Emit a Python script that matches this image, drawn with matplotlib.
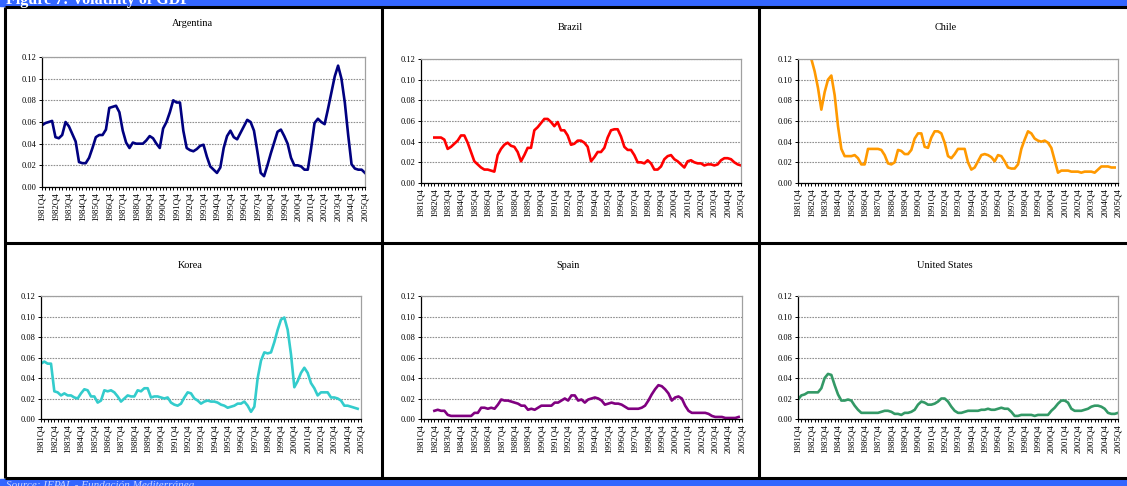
"""Volatility of GDP, six country panels
"""
import numpy as np
import matplotlib
matplotlib.use('Agg')
import matplotlib.pyplot as plt
from matplotlib.ticker import MultipleLocator, FormatStrFormatter

W, H = 1127, 486
NA = np.nan

YEARS = list(range(1981, 2006))
TICK_LABELS = [f'{y}Q4' for y in YEARS]

ARGENTINA = [
    0.057, 0.059, 0.060, 0.061, 0.046, 0.045, 0.048, 0.060,
    0.056, 0.049, 0.042, 0.023, 0.022, 0.022, 0.027, 0.036,
    0.046, 0.048, 0.048, 0.053, 0.073, 0.074, 0.075, 0.069,
    0.052, 0.041, 0.036, 0.041, 0.040, 0.040, 0.040, 0.043,
    0.047, 0.045, 0.040, 0.036, 0.054, 0.060, 0.069, 0.080,
    0.078, 0.078, 0.052, 0.036, 0.034, 0.033, 0.035, 0.038,
    0.039, 0.028, 0.019, 0.016, 0.013, 0.018, 0.036, 0.047,
    0.052, 0.046, 0.044, 0.050, 0.056, 0.062, 0.060, 0.052,
    0.033, 0.013, 0.010, 0.020, 0.031, 0.041, 0.051, 0.053,
    0.047, 0.040, 0.027, 0.020, 0.020, 0.019, 0.016, 0.016,
    0.036, 0.059, 0.063, 0.060, 0.058, 0.072, 0.087, 0.102,
    0.112, 0.100, 0.078, 0.048, 0.021, 0.017, 0.016, 0.016,
    0.013,
]
BRAZIL = [
    NA, NA, NA, NA, 0.044, 0.044, 0.044, 0.042,
    0.033, 0.035, 0.038, 0.041, 0.046, 0.046, 0.039, 0.030,
    0.021, 0.018, 0.015, 0.013, 0.013, 0.012, 0.011, 0.027,
    0.033, 0.037, 0.039, 0.036, 0.035, 0.030, 0.021, 0.027,
    0.034, 0.034, 0.051, 0.054, 0.058, 0.062, 0.062, 0.059,
    0.055, 0.059, 0.051, 0.051, 0.046, 0.037, 0.038, 0.041,
    0.041, 0.039, 0.035, 0.021, 0.025, 0.030, 0.030, 0.034,
    0.044, 0.051, 0.052, 0.052, 0.045, 0.035, 0.032, 0.032,
    0.027, 0.020, 0.020, 0.019, 0.022, 0.019, 0.013, 0.013,
    0.016, 0.023, 0.026, 0.027, 0.023, 0.021, 0.018, 0.015,
    0.021, 0.022, 0.020, 0.019, 0.019, 0.017, 0.018, 0.018,
    0.017, 0.018, 0.022, 0.024, 0.024, 0.023, 0.020, 0.018,
    0.017,
]
CHILE = [
    NA, NA, NA, NA, 0.120, 0.108, 0.092, 0.071,
    0.088, 0.100, 0.104, 0.085, 0.055, 0.033, 0.026, 0.026,
    0.026, 0.027, 0.024, 0.018, 0.018, 0.033, 0.033, 0.033,
    0.033, 0.032, 0.027, 0.019, 0.018, 0.020, 0.032, 0.031,
    0.028, 0.028, 0.032, 0.043, 0.048, 0.048, 0.035, 0.034,
    0.044, 0.050, 0.050, 0.048, 0.039, 0.026, 0.024, 0.028,
    0.033, 0.033, 0.033, 0.020, 0.013, 0.015, 0.021, 0.027,
    0.028, 0.027, 0.025, 0.021, 0.027, 0.026, 0.021, 0.015,
    0.014, 0.014, 0.018, 0.033, 0.042, 0.050, 0.048, 0.043,
    0.041, 0.040, 0.041, 0.039, 0.034, 0.022, 0.010, 0.012,
    0.012, 0.012, 0.011, 0.011, 0.011, 0.010, 0.011, 0.011,
    0.011, 0.010, 0.013, 0.016, 0.016, 0.016, 0.015, 0.015,
    NA,
]
KOREA = [
    0.054, 0.056, 0.054, 0.054, 0.027, 0.026, 0.023, 0.025,
    0.023, 0.023, 0.021, 0.020, 0.025, 0.029, 0.028, 0.022,
    0.022, 0.016, 0.018, 0.028, 0.027, 0.028, 0.026, 0.022,
    0.017, 0.020, 0.023, 0.022, 0.022, 0.028, 0.027, 0.030,
    0.030, 0.021, 0.022, 0.022, 0.021, 0.020, 0.021, 0.016,
    0.014, 0.013, 0.015, 0.021, 0.026, 0.025, 0.020, 0.018,
    0.015, 0.017, 0.018, 0.017, 0.017, 0.016, 0.014, 0.013,
    0.011, 0.012, 0.013, 0.015, 0.015, 0.017, 0.013, 0.007,
    0.012, 0.040, 0.057, 0.065, 0.064, 0.065, 0.075, 0.087,
    0.097, 0.099, 0.087, 0.063, 0.031, 0.037, 0.045, 0.050,
    0.045, 0.035, 0.030, 0.023, 0.026, 0.026, 0.026, 0.021,
    0.021, 0.020, 0.018, 0.013, 0.013, 0.012, 0.011, 0.010,
    NA,
]
SPAIN = [
    NA, NA, NA, NA, 0.008, 0.009, 0.008, 0.008,
    0.004, 0.003, 0.003, 0.003, 0.003, 0.003, 0.003, 0.003,
    0.006, 0.006, 0.011, 0.011, 0.010, 0.011, 0.010, 0.014,
    0.019, 0.018, 0.018, 0.017, 0.016, 0.015, 0.013, 0.013,
    0.009, 0.010, 0.009, 0.011, 0.013, 0.013, 0.013, 0.013,
    0.016, 0.016, 0.018, 0.020, 0.018, 0.023, 0.023, 0.018,
    0.019, 0.016, 0.019, 0.020, 0.021, 0.020, 0.018, 0.014,
    0.015, 0.016, 0.015, 0.015, 0.014, 0.012, 0.010, 0.010,
    0.010, 0.010, 0.011, 0.013, 0.018, 0.024, 0.029, 0.033,
    0.032, 0.029, 0.025, 0.018, 0.021, 0.022, 0.020, 0.013,
    0.008, 0.006, 0.006, 0.006, 0.006, 0.006, 0.005, 0.003,
    0.002, 0.002, 0.002, 0.001, 0.001, 0.001, 0.001, 0.002,
    NA,
]
UNITED_STATES = [
    0.019, 0.023, 0.024, 0.026, 0.026, 0.026, 0.026, 0.030,
    0.040, 0.044, 0.043, 0.033, 0.024, 0.018, 0.018, 0.019,
    0.018, 0.013, 0.009, 0.006, 0.006, 0.006, 0.006, 0.006,
    0.006, 0.007, 0.008, 0.008, 0.007, 0.005, 0.005, 0.004,
    0.006, 0.006, 0.007, 0.009, 0.014, 0.017, 0.016, 0.014,
    0.014, 0.015, 0.017, 0.020, 0.020, 0.017, 0.012, 0.008,
    0.006, 0.006, 0.007, 0.008, 0.008, 0.008, 0.008, 0.009,
    0.009, 0.010, 0.009, 0.009, 0.010, 0.011, 0.010, 0.010,
    0.007, 0.003, 0.003, 0.004, 0.004, 0.004, 0.004, 0.003,
    0.004, 0.004, 0.004, 0.004, 0.008, 0.011, 0.015, 0.018,
    0.018, 0.016, 0.010, 0.008, 0.008, 0.008, 0.009, 0.010,
    0.012, 0.013, 0.013, 0.012, 0.010, 0.006, 0.005, 0.005,
    0.006,
]

# name, series, colour, plot box (left, right, top, bottom in px), title centre
PANELS = [
    ('Argentina', ARGENTINA, '#000080', (42, 365, 57, 187), (192, 24)),
    ('Brazil', BRAZIL, '#ff0000', (421, 741, 59, 183), (570, 28)),
    ('Chile', CHILE, '#ff9900', (798, 1118, 59, 183), (946, 28)),
    ('Korea', KOREA, '#33cccc', (41, 361, 296, 419), (190, 265)),
    ('Spain', SPAIN, '#800080', (421, 742, 296, 419), (568, 265)),
    ('United States', UNITED_STATES, '#339966', (798, 1118, 296, 419), (945, 265)),
]

SERIF = ['Liberation Serif', 'DejaVu Serif']
BAR_BLUE = '#3366ff'


def fx(px):
    return px / W


def fy(py):
    return 1 - py / H


def draw_panel(fig, name, values, colour, box, title_pos):
    left, right, top, bottom = box
    ax = fig.add_axes([fx(left), fy(bottom), fx(right - left), (bottom - top) / H])
    x = np.arange(len(values))
    ax.plot(x, values, color=colour, lw=1.9, solid_joinstyle='round')
    ax.set_xlim(0, len(values) - 1)
    ax.set_ylim(0, 0.12)

    ax.yaxis.set_major_locator(MultipleLocator(0.02))
    ax.yaxis.set_major_formatter(FormatStrFormatter('%.2f'))
    ax.set_xticks(np.arange(0, len(values), 4))
    ax.set_xticklabels(TICK_LABELS, rotation=90)
    ax.xaxis.set_minor_locator(MultipleLocator(1))

    ax.grid(axis='y', color='#909090', lw=0.8, ls=(0, (1.5, 1)))
    ax.set_axisbelow(True)
    for side in ('top', 'right'):
        ax.spines[side].set_color('#a0a0a0')
        ax.spines[side].set_linewidth(0.9)
    for side in ('left', 'bottom'):
        ax.spines[side].set_color('black')
        ax.spines[side].set_linewidth(0.9)

    ax.tick_params(axis='both', which='both', direction='out', length=2.5,
                   width=0.7, pad=1.5, colors='black')
    ax.tick_params(axis='x', labelsize=6.5)
    ax.tick_params(axis='y', labelsize=6.0)
    for lbl in ax.get_xticklabels() + ax.get_yticklabels():
        lbl.set_fontfamily(SERIF)

    fig.text(fx(title_pos[0]), fy(title_pos[1]), name, ha='center', va='center',
             fontsize=7.4, family=SERIF)


def main():
    fig = plt.figure(figsize=(W / 100, H / 100), dpi=100)

    # header and footer bars, their captions run past the page edge
    fig.patches.append(plt.Rectangle((0, fy(6)), 1, 6 / H, transform=fig.transFigure,
                                     color=BAR_BLUE, zorder=0))
    fig.patches.append(plt.Rectangle((0, 0), 1, 7 / H, transform=fig.transFigure,
                                     color=BAR_BLUE, zorder=0))
    fig.text(fx(6), fy(4), 'Figure 7: Volatility of GDP', color='white',
             fontsize=11.5, fontweight='bold', family=SERIF, va='baseline')
    fig.text(fx(6), fy(481), 'Source: IEPAL - Fundación Mediterránea', color='#c8d4ff',
             fontsize=8, fontstyle='italic', family=SERIF, va='top')

    # panel frame
    frame = dict(color='black', lw=2.2, transform=fig.transFigure, solid_capstyle='butt')
    fig.add_artist(plt.Line2D([fx(5), 1], [fy(7), fy(7)], **frame))
    fig.add_artist(plt.Line2D([fx(5), 1], [fy(243), fy(243)], **frame))
    fig.add_artist(plt.Line2D([fx(5), 1], [fy(478), fy(478)], **frame))
    for xpos in (5, 382, 759):
        fig.add_artist(plt.Line2D([fx(xpos), fx(xpos)], [fy(7), fy(478)], **frame))

    for name, values, colour, box, title_pos in PANELS:
        draw_panel(fig, name, values, colour, box, title_pos)

    fig.savefig('out.png', dpi=100)


if __name__ == '__main__':
    main()
